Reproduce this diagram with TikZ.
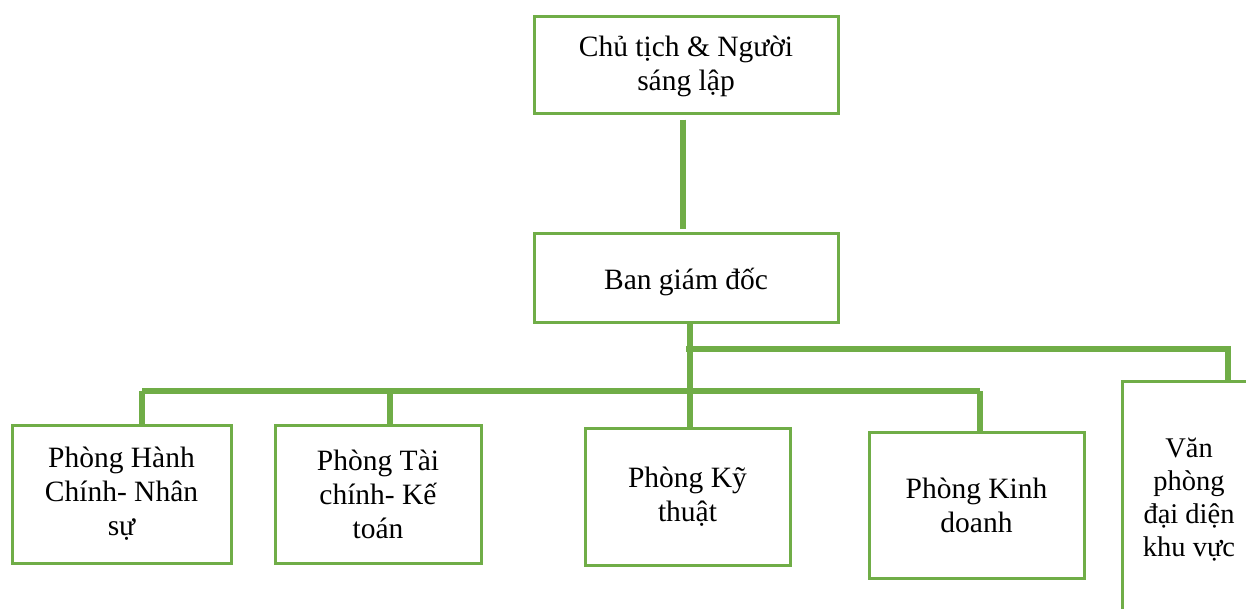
\documentclass[tikz,border=0pt]{standalone}
\usepackage{fontspec}
\setmainfont{Liberation Serif}
\definecolor{boxgreen}{HTML}{70AD47}
\begin{document}
\begin{tikzpicture}[x=1pt,y=-1pt,
  box/.style={draw=boxgreen, line width=3pt, fill=white, align=center,
    font=\fontsize{29.5}{34}\selectfont, inner sep=0pt},
  txt/.style={align=center, font=\fontsize{28.5}{33}\selectfont, inner sep=0pt},
  link/.style={draw=boxgreen, line width=6pt}]
\useasboundingbox (0,0) rectangle (1246,608);
% boxes
\node[box, minimum width=304pt, minimum height=97pt] (chu) at (686,64.5) {\raisebox{-2pt}[\height][\depth]{Chủ tịch \& Người}\\\raisebox{-2pt}[\height][\depth]{sáng lập}};
\node[box, minimum width=304pt, minimum height=89pt] (ban) at (686,277.5) {\raisebox{-4pt}[\height][\depth]{Ban giám đốc}};
\node[box, minimum width=219pt, minimum height=138pt] (hc) at (121.5,494) {Phòng Hành\\Chính- Nhân\\sự};
\node[box, minimum width=206pt, minimum height=138pt] (tc) at (378,494) {Phòng Tài\\chính- Kế\\toán};
\node[box, minimum width=205pt, minimum height=137pt] (kt) at (687.5,496.5) {Phòng Kỹ\\thuật};
\node[box, minimum width=215pt, minimum height=146pt] (kd) at (976.5,505) {Phòng Kinh\\doanh};
\node[box, minimum width=212pt, minimum height=319pt] (vp) at (1228,540.5) {};
\node[txt] (vpt) at (1189,500) {Văn\\phòng\\đại diện\\khu vực};
% junctions
\coordinate (ja) at (686,349);
\coordinate (jb) at (1228,349);
\coordinate (j1) at (142,391);
\coordinate (j2) at (390,391);
\coordinate (j4) at (980,391);
% connectors
\draw[link] ([yshift=-5pt]chu.south -| 683,0) -- ([yshift=3pt]ban.north -| 683,0);
\draw[link] (ban.south -| 690,0) -- (kt.north -| 690,0);
\draw[link] (ja) -- (jb) -- (vp.north);
\draw[link] (j1) -- (j4);
\draw[link] (j1) -- (j1 |- hc.north);
\draw[link] (j2) -- (j2 |- tc.north);
\draw[link] (j4) -- (j4 |- kd.north);
\end{tikzpicture}
\end{document}
